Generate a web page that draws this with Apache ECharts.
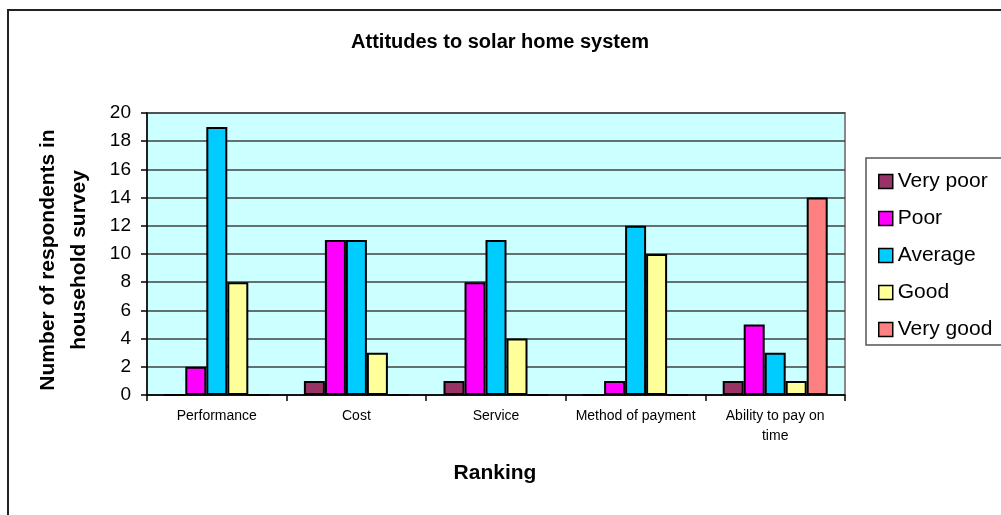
<!DOCTYPE html>
<html>
<head>
<meta charset="utf-8">
<script src="https://cdn.jsdelivr.net/npm/echarts@6/dist/echarts.min.js"></script>
<style>
  html, body { margin: 0; padding: 0; background: #fff; }
  #chart { width: 1001px; height: 515px; }
</style>
</head>
<body>
<div id="chart"></div>
<script>
// Survey categories and responses per rating
const categories = ['Performance', 'Cost', 'Service', 'Method of payment', 'Ability to pay on\ntime'];
const ratingNames = ['Very poor', 'Poor', 'Average', 'Good', 'Very good'];
const veryPoor = [0, 1, 1, 0, 1];
const poor     = [2, 11, 8, 1, 5];
const average  = [19, 11, 11, 12, 3];
const good     = [8, 3, 4, 10, 1];
const veryGood = [0, 0, 0, 0, 14];
const yTicks = { min: 0, max: 20, interval: 2 };

const seriesValues = [veryPoor, poor, average, good, veryGood];
const colors = ['#993366', '#FF00FF', '#00CCFF', '#FFFF99', '#FF8080'];
const FONT = '"Liberation Sans", Arial, sans-serif';

const chart = echarts.init(document.getElementById('chart'), null, { renderer: 'canvas' });

chart.setOption({
  animation: false,
  backgroundColor: '#ffffff',
  textStyle: { fontFamily: FONT },
  grid: {
    left: 147, right: 156, top: 113, bottom: 120,
    show: true,
    backgroundColor: '#CCFFFF',
    borderColor: '#888888',
    borderWidth: 2
  },
  legend: {
    orient: 'vertical',
    left: 873,
    top: 166,
    icon: 'rect',
    itemWidth: 14,
    itemHeight: 14,
    itemGap: 16,
    textStyle: { fontFamily: FONT, fontSize: 21, color: '#000' },
    data: ratingNames,
    itemStyle: { borderColor: '#000', borderWidth: 1.5 }
  },
  xAxis: {
    type: 'category',
    data: categories,
    axisLine: { lineStyle: { color: '#000', width: 1.5 } },
    axisTick: { show: true, length: 6, lineStyle: { color: '#000', width: 1.5 } },
    axisLabel: {
      color: '#000', fontSize: 14, fontFamily: FONT,
      margin: 11, lineHeight: 20, verticalAlign: 'top', interval: 0
    },
    splitLine: { show: false }
  },
  yAxis: {
    type: 'value',
    min: yTicks.min, max: yTicks.max, interval: yTicks.interval,
    axisLine: { show: true, lineStyle: { color: '#000', width: 1.5 } },
    axisTick: { show: true, length: 6, lineStyle: { color: '#000', width: 1.5 } },
    axisLabel: { color: '#000', fontSize: 19, fontFamily: FONT, margin: 16 },
    splitLine: { show: true, lineStyle: { color: '#404040', width: 1.5 } }
  },
  series: ratingNames.map((name, i) => ({
    name: name,
    type: 'bar',
    data: seriesValues[i],
    barWidth: 21,
    barGap: '0%',
    itemStyle: { color: colors[i], borderColor: '#000', borderWidth: 2 }
  })),
  graphic: [
    {
      type: 'rect', silent: true, z: -1,
      shape: { x: 8, y: 10, width: 1100, height: 700 },
      style: { fill: 'none', stroke: '#222', lineWidth: 2 }
    },
    {
      type: 'rect', silent: true,
      shape: { x: 866, y: 158, width: 200, height: 187 },
      style: { fill: 'none', stroke: '#555', lineWidth: 1.5 }
    },
    {
      type: 'text', x: 500, y: 42,
      style: {
        text: 'Attitudes to solar home system', font: 'bold 20px ' + FONT, fill: '#000',
        align: 'center', verticalAlign: 'middle'
      }
    },
    {
      type: 'text', x: 64, y: 260, rotation: Math.PI / 2,
      style: {
        text: 'Number of respondents in\nhousehold survey',
        font: 'bold 21px ' + FONT, fill: '#000',
        align: 'center', verticalAlign: 'middle', lineHeight: 31
      }
    },
    {
      type: 'text', x: 495, y: 473,
      style: {
        text: 'Ranking', font: 'bold 21px ' + FONT, fill: '#000',
        align: 'center', verticalAlign: 'middle'
      }
    }
  ]
});
</script>
</body>
</html>
